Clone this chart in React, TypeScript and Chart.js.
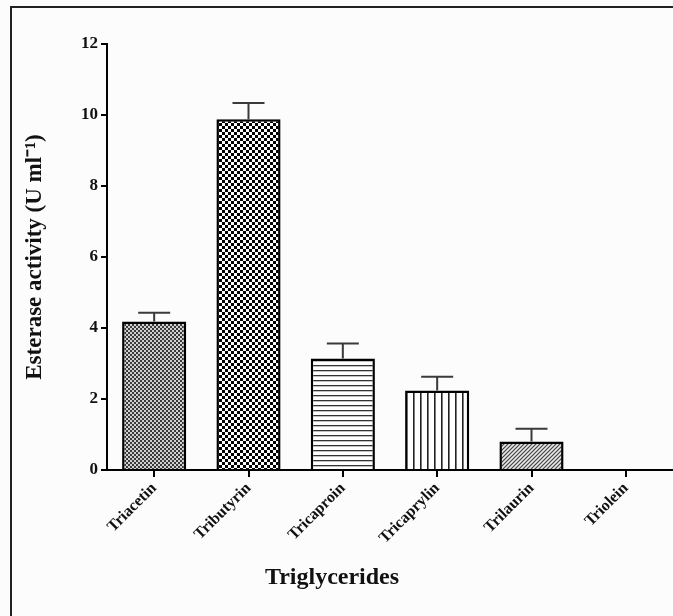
import React, { useEffect, useRef } from "react";
import { Chart, registerables } from "chart.js";

Chart.register(...registerables);

const categories = ["Triacetin", "Tributyrin", "Tricaproin", "Tricaprylin", "Trilaurin", "Triolein"];
const activity = [4.18, 9.88, 3.14, 2.24, 0.8, 0];
const errors = [0.25, 0.46, 0.42, 0.39, 0.36, 0];
const yMin = 0;
const yMax = 12;
const yStep = 2;
const yTitle = "Esterase activity (U ml\u207B\u00B9)";
const xTitle = "Triglycerides";

const FONT = "'Liberation Serif', 'Times New Roman', serif";

function makePattern(kind: string): CanvasPattern | string {
  const c = document.createElement("canvas");
  const ctx = c.getContext("2d");
  if (!ctx) return "#888";
  if (kind === "fineChecker") {
    c.width = 4; c.height = 4;
    ctx.fillStyle = "#d0d0d0"; ctx.fillRect(0, 0, 4, 4);
    ctx.fillStyle = "#3a3a3a"; ctx.fillRect(0, 0, 2, 2); ctx.fillRect(2, 2, 2, 2);
  } else if (kind === "coarseChecker") {
    c.width = 6; c.height = 6;
    ctx.fillStyle = "#ffffff"; ctx.fillRect(0, 0, 6, 6);
    ctx.fillStyle = "#000000"; ctx.fillRect(0, 0, 3, 3); ctx.fillRect(3, 3, 3, 3);
  } else if (kind === "hLines") {
    c.width = 5; c.height = 5;
    ctx.fillStyle = "#ffffff"; ctx.fillRect(0, 0, 5, 5);
    ctx.fillStyle = "#333333"; ctx.fillRect(0, 0, 5, 1.3);
  } else if (kind === "vLines") {
    c.width = 7; c.height = 7;
    ctx.fillStyle = "#ffffff"; ctx.fillRect(0, 0, 7, 7);
    ctx.fillStyle = "#222222"; ctx.fillRect(0, 0, 1.6, 7);
  } else if (kind === "diag") {
    c.width = 4; c.height = 4;
    ctx.fillStyle = "#e6e6e6"; ctx.fillRect(0, 0, 4, 4);
    ctx.strokeStyle = "#444444"; ctx.lineWidth = 1.2;
    ctx.beginPath();
    ctx.moveTo(0, 4); ctx.lineTo(4, 0);
    ctx.moveTo(-1, 1); ctx.lineTo(1, -1);
    ctx.moveTo(3, 5); ctx.lineTo(5, 3);
    ctx.stroke();
  } else {
    return "#ffffff";
  }
  return ctx.createPattern(c, "repeat") || "#888";
}

const patternKinds = ["fineChecker", "coarseChecker", "hLines", "vLines", "diag", "none"];

const errorBarPlugin = {
  id: "errorBars",
  afterDatasetsDraw(chart: any) {
    const ctx = chart.ctx;
    const xs = chart.scales.x;
    const ys = chart.scales.y;
    ctx.save();
    ctx.strokeStyle = "#3a3a3a";
    ctx.lineWidth = 2;
    activity.forEach((v, i) => {
      const e = errors[i];
      if (!e) return;
      const x = xs.getPixelForValue(i);
      const yb = ys.getPixelForValue(v);
      const yt = ys.getPixelForValue(v + e);
      ctx.beginPath();
      ctx.moveTo(x, yb);
      ctx.lineTo(x, yt);
      ctx.moveTo(x - 16, yt);
      ctx.lineTo(x + 16, yt);
      ctx.stroke();
    });
    ctx.restore();
  },
};

const backgroundPlugin = {
  id: "bgFrame",
  beforeDraw(chart: any) {
    const ctx = chart.ctx;
    ctx.save();
    ctx.fillStyle = "#fcfcfc";
    ctx.fillRect(0, 0, chart.width, chart.height);
    ctx.strokeStyle = "#222222";
    ctx.lineWidth = 2;
    ctx.strokeRect(11, 7, chart.width + 20, chart.height + 20);
    ctx.restore();
  },
};

const xTitlePlugin = {
  id: "xTitle",
  afterDraw(chart: any) {
    const ctx = chart.ctx;
    ctx.save();
    ctx.fillStyle = "#111";
    ctx.font = `bold 24px ${FONT}`;
    ctx.textAlign = "center";
    ctx.textBaseline = "middle";
    ctx.fillText(xTitle, 332, 578);
    ctx.restore();
  },
};

export default function App() {
  const ref = useRef<HTMLCanvasElement | null>(null);
  useEffect(() => {
    if (!ref.current) return;
    const chart = new Chart(ref.current, {
      type: "bar",
      data: {
        labels: categories,
        datasets: [
          {
            data: activity,
            backgroundColor: patternKinds.map((k) => makePattern(k)) as any,
            borderColor: "#000000",
            borderWidth: 2.5,
            categoryPercentage: 0.68,
            barPercentage: 1,
          },
        ],
      },
      options: {
        animation: false,
        responsive: false,
        layout: { padding: { top: 44, left: 0, right: 0, bottom: 0 } },
        plugins: { legend: { display: false }, tooltip: { enabled: false } },
        scales: {
          x: {
            offset: true,
            grid: { display: true, offset: false, drawOnChartArea: false, drawTicks: true, tickLength: 7, color: "#000", lineWidth: 2 },
            border: { display: true, color: "#000", width: 2 },
            ticks: { color: "#111", font: { family: FONT, size: 16, weight: "bold" }, maxRotation: 45, minRotation: 45, padding: 2 },
            title: { display: false },
            afterFit(scale: any) { scale.height = 146; },
          },
          y: {
            min: yMin,
            max: yMax,
            ticks: { stepSize: yStep, color: "#111", font: { family: FONT, size: 17, weight: "bold" }, padding: 3 },
            grid: { display: true, drawOnChartArea: false, drawTicks: true, tickLength: 6, color: "#000", lineWidth: 2 },
            border: { display: true, color: "#000", width: 2 },
            title: { display: true, text: yTitle, color: "#111", font: { family: FONT, size: 23, weight: "bold" }, padding: { top: 21, bottom: 0 } },
            afterFit(scale: any) { scale.width = 107; },
          },
        },
      },
      plugins: [backgroundPlugin, errorBarPlugin, xTitlePlugin],
    });
    return () => chart.destroy();
  }, []);
  return (
    <div style={{ position: "absolute", left: 0, top: 0, width: 673, height: 616 }}>
      <canvas ref={ref} width={673} height={616} />
    </div>
  );
}
